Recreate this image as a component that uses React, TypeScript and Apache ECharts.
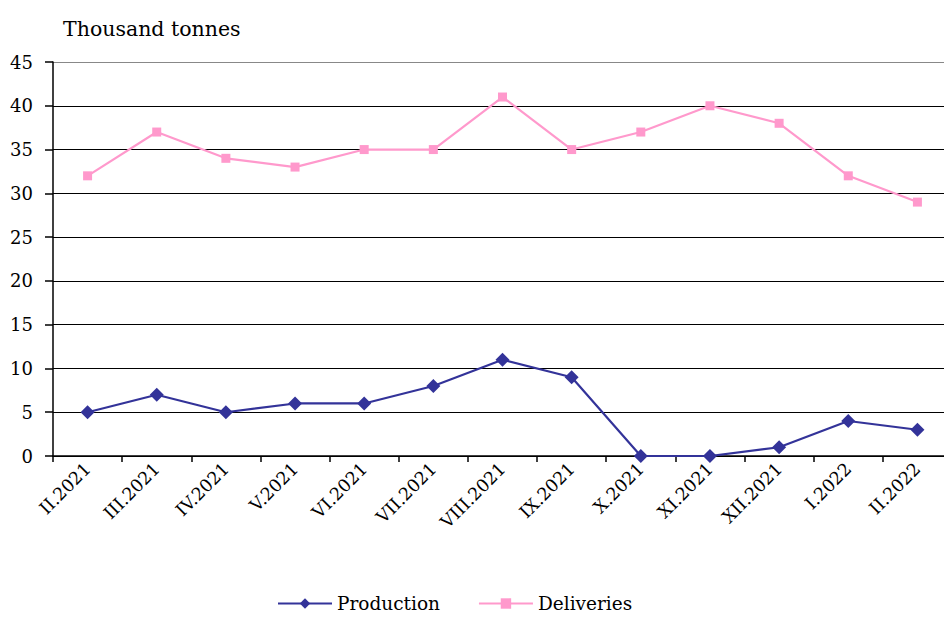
import React, { useEffect, useRef } from "react";
import * as echarts from "echarts";

const categories = ["II.2021", "III.2021", "IV.2021", "V.2021", "VI.2021", "VII.2021", "VIII.2021", "IX.2021", "X.2021", "XI.2021", "XII.2021", "I.2022", "II.2022"];
const production = [5, 7, 5, 6, 6, 8, 11, 9, 0, 0, 1, 4, 3];
const deliveries = [32, 37, 34, 33, 35, 35, 41, 35, 37, 40, 38, 32, 29];
const unitLabel = "Thousand tonnes";

const FONT = "DejaVu Serif";

export default function App() {
  const ref = useRef<HTMLDivElement>(null);
  useEffect(() => {
    if (!ref.current) return;
    const chart = echarts.init(ref.current, null, { renderer: "svg" });
    chart.setOption({
      animation: false,
      backgroundColor: "#ffffff",
      textStyle: { fontFamily: FONT, color: "#000" },
      title: {
        text: unitLabel,
        left: 58,
        top: 13,
        textStyle: { fontFamily: FONT, fontSize: 20.5, fontWeight: "normal", color: "#000" },
      },
      legend: {
        top: 589,
        left: 272,
        itemWidth: 54,
        itemHeight: 13,
        itemGap: 38,
        textStyle: { fontFamily: FONT, fontSize: 18.5, color: "#000" },
        data: ["Production", "Deliveries"],
      },
      grid: { left: 53, top: 62, width: 899, height: 394, containLabel: false },
      xAxis: {
        type: "category",
        data: categories,
        boundaryGap: true,
        axisLine: { lineStyle: { color: "#000", width: 1.5 } },
        axisTick: { show: true, length: 6, lineStyle: { color: "#000", width: 1.5 } },
        axisLabel: { rotate: 45, fontFamily: FONT, fontSize: 17.5, color: "#000", margin: 10, interval: 0 },
      },
      yAxis: {
        type: "value",
        min: 0,
        max: 45,
        interval: 5,
        axisLine: { show: true, lineStyle: { color: "#000", width: 1.5 } },
        axisTick: { show: true, length: 8, lineStyle: { color: "#000", width: 1.5 } },
        axisLabel: { fontFamily: FONT, fontSize: 18, color: "#000", margin: 20 },
        splitLine: { lineStyle: { color: ["#000", "#000", "#000", "#000", "#000", "#000", "#000", "#000", "#000", "#888"], width: 1.2 } },
      },
      series: [
        {
          name: "Production",
          type: "line",
          data: production,
          color: "#333399",
          symbol: "diamond",
          symbolSize: 14,
          lineStyle: { color: "#333399", width: 2.2 },
          itemStyle: { color: "#333399" },
        },
        {
          name: "Deliveries",
          type: "line",
          data: deliveries,
          color: "#FF99CC",
          symbol: "rect",
          symbolSize: 9,
          lineStyle: { color: "#FF99CC", width: 2.2 },
          itemStyle: { color: "#FF99CC" },
        },
      ],
    });
    return () => chart.dispose();
  }, []);
  return (
    <div style={{ width: 944, height: 617, position: "absolute", left: 0, top: 0, overflow: "hidden" }}>
      <div ref={ref} style={{ width: 960, height: 617 }} />
    </div>
  );
}
